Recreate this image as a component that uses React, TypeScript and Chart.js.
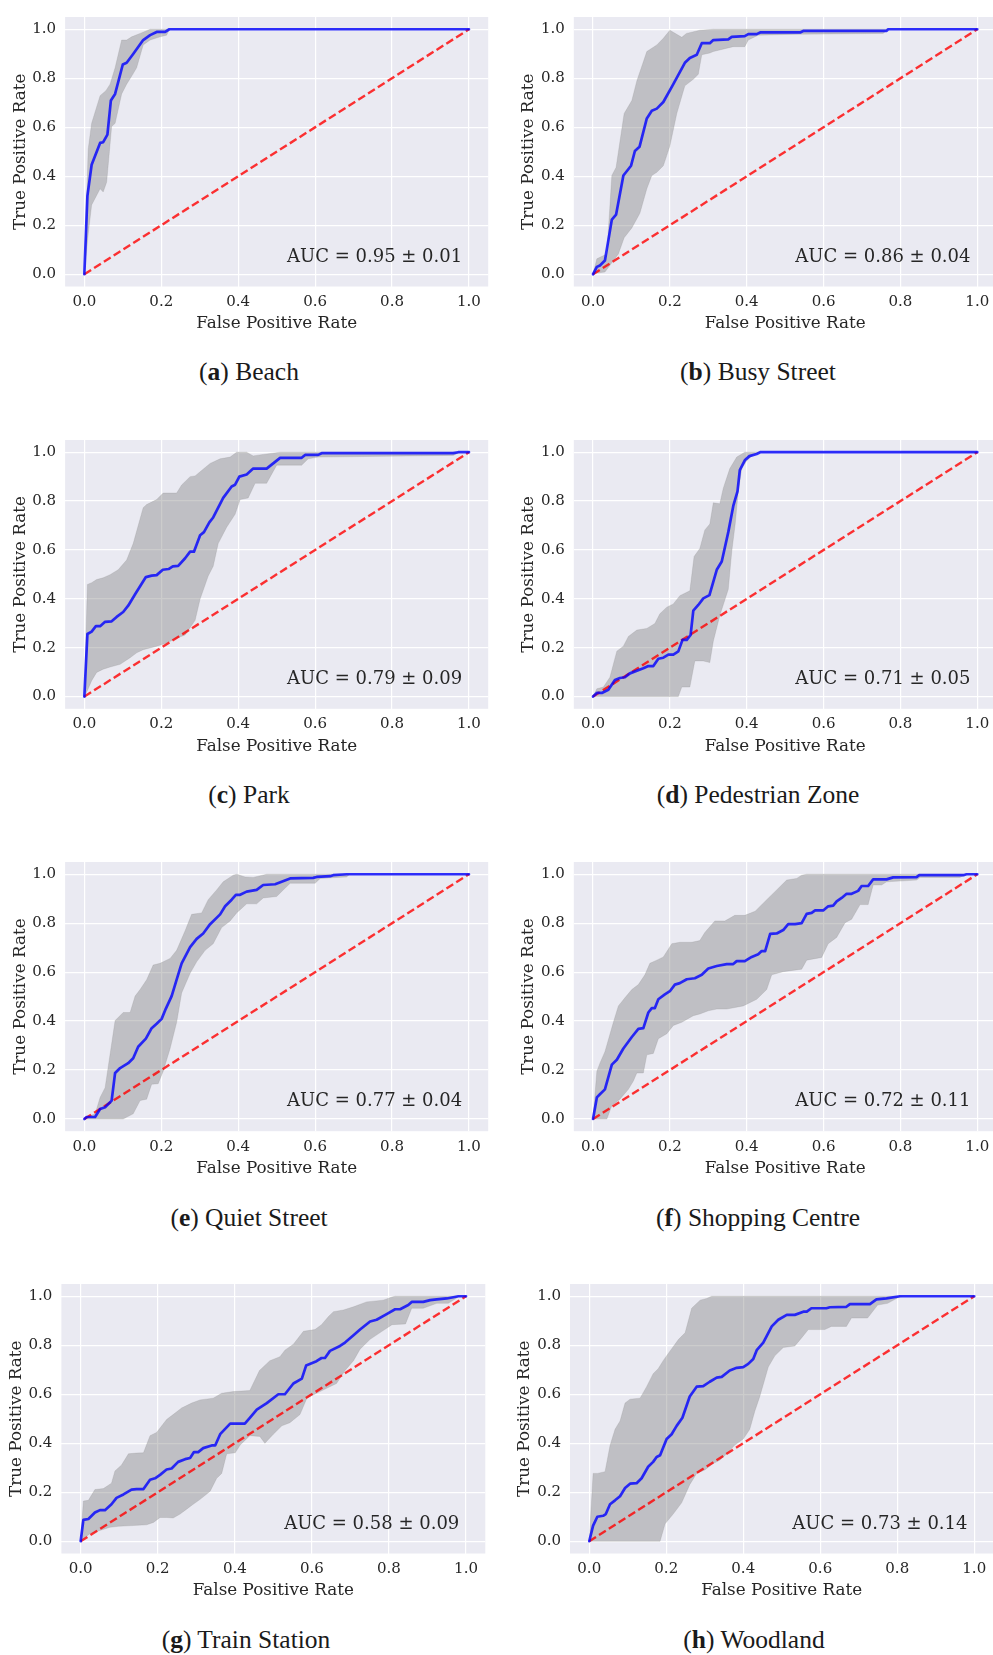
import React, { useEffect, useRef } from 'react';
import { Chart, registerables } from 'chart.js';

Chart.register(...registerables);

// ---------- shared ----------
const tickValues = [0, 0.2, 0.4, 0.6, 0.8, 1.0];
const diagFpr = [0, 1];
const diagTpr = [0, 1];
const panelLetters = ['a', 'b', 'c', 'd', 'e', 'f', 'g', 'h'];
const panelNames = ['Beach', 'Busy Street', 'Park', 'Pedestrian Zone', 'Quiet Street', 'Shopping Centre', 'Train Station', 'Woodland'];
const aucLabels = ['AUC = 0.95 ± 0.01', 'AUC = 0.86 ± 0.04', 'AUC = 0.79 ± 0.09', 'AUC = 0.71 ± 0.05', 'AUC = 0.77 ± 0.04', 'AUC = 0.72 ± 0.11', 'AUC = 0.58 ± 0.09', 'AUC = 0.73 ± 0.14'];

// ---------- (a) Beach ----------
const beachMeanFpr = [0, 0.008, 0.019, 0.041, 0.049, 0.06, 0.069, 0.08, 0.1, 0.11, 0.127, 0.153, 0.171, 0.188, 0.21, 0.221, 1.0];
const beachMeanTpr = [0, 0.32, 0.447, 0.536, 0.539, 0.57, 0.709, 0.736, 0.856, 0.863, 0.899, 0.956, 0.976, 0.989, 0.989, 1.0, 1.0];
const beachUpperFpr = [0, 0.01, 0.019, 0.041, 0.056, 0.067, 0.08, 0.097, 0.11, 0.123, 0.145, 0.171, 1.0];
const beachUpper = [0, 0.51, 0.616, 0.729, 0.749, 0.776, 0.843, 0.956, 0.956, 0.969, 0.983, 1.0, 1.0];
const beachLowerFpr = [0, 0.01, 0.019, 0.041, 0.049, 0.058, 0.071, 0.08, 0.097, 0.11, 0.126, 0.136, 0.153, 0.171, 0.197, 0.214, 0.221, 1.0];
const beachLower = [0, 0.163, 0.283, 0.349, 0.336, 0.376, 0.603, 0.616, 0.736, 0.776, 0.816, 0.843, 0.936, 0.956, 0.969, 0.976, 1.0, 1.0];

// ---------- (b) Busy Street ----------
const busyMeanFpr = [0, 0.01, 0.018, 0.031, 0.049, 0.06, 0.079, 0.099, 0.109, 0.121, 0.14, 0.153, 0.166, 0.183, 0.209, 0.239, 0.252, 0.27, 0.283, 0.304, 0.313, 0.352, 0.361, 0.395, 0.404, 0.426, 0.435, 0.539, 0.547, 0.764, 0.768, 1.0];
const busyMeanTpr = [0, 0.03, 0.036, 0.056, 0.223, 0.243, 0.403, 0.443, 0.503, 0.52, 0.636, 0.667, 0.676, 0.703, 0.776, 0.863, 0.883, 0.896, 0.943, 0.943, 0.956, 0.959, 0.969, 0.972, 0.98, 0.98, 0.987, 0.987, 0.993, 0.993, 1.0, 1.0];
const busyUpperFpr = [0, 0.01, 0.036, 0.049, 0.06, 0.081, 0.101, 0.114, 0.14, 0.166, 0.183, 0.2, 0.231, 0.243, 0.278, 0.313, 1.0];
const busyUpper = [0, 0.063, 0.083, 0.403, 0.436, 0.656, 0.709, 0.789, 0.909, 0.936, 0.963, 0.996, 0.967, 0.983, 0.996, 1.0, 1.0];
const busyLowerFpr = [0, 0.01, 0.031, 0.066, 0.081, 0.101, 0.122, 0.14, 0.153, 0.166, 0.183, 0.2, 0.218, 0.239, 0.261, 0.274, 0.283, 0.304, 0.313, 0.365, 0.395, 0.404, 0.43, 0.539, 0.755, 0.768, 1.0];
const busyLower = [0, 0.005, 0.009, 0.083, 0.149, 0.189, 0.249, 0.349, 0.403, 0.416, 0.443, 0.523, 0.656, 0.769, 0.796, 0.816, 0.896, 0.903, 0.909, 0.929, 0.929, 0.956, 0.976, 0.98, 0.983, 1.0, 1.0];

// ---------- (c) Park ----------
const parkMeanFpr = [0, 0.008, 0.019, 0.03, 0.041, 0.054, 0.071, 0.084, 0.101, 0.114, 0.132, 0.16, 0.175, 0.188, 0.204, 0.219, 0.23, 0.244, 0.262, 0.275, 0.285, 0.301, 0.311, 0.325, 0.335, 0.361, 0.383, 0.392, 0.403, 0.422, 0.439, 0.474, 0.509, 0.565, 0.574, 0.608, 0.617, 0.959, 0.972, 1.0];
const parkMeanTpr = [0, 0.256, 0.266, 0.288, 0.288, 0.306, 0.308, 0.326, 0.346, 0.372, 0.419, 0.489, 0.495, 0.497, 0.519, 0.522, 0.533, 0.535, 0.566, 0.593, 0.593, 0.66, 0.673, 0.713, 0.733, 0.813, 0.86, 0.867, 0.9, 0.909, 0.933, 0.933, 0.977, 0.977, 0.989, 0.989, 0.996, 0.996, 1.0, 1.0];
const parkUpperFpr = [0, 0.008, 0.019, 0.032, 0.049, 0.067, 0.088, 0.11, 0.127, 0.153, 0.162, 0.188, 0.205, 0.24, 0.253, 0.275, 0.288, 0.301, 0.327, 0.353, 0.379, 0.396, 0.422, 0.439, 0.465, 0.509, 1.0];
const parkUpper = [0, 0.459, 0.466, 0.479, 0.486, 0.499, 0.519, 0.559, 0.626, 0.773, 0.786, 0.806, 0.833, 0.833, 0.866, 0.9, 0.903, 0.92, 0.954, 0.973, 0.98, 1.0, 1.0, 0.985, 0.991, 1.0, 1.0];
const parkLowerFpr = [0, 0.008, 0.019, 0.032, 0.049, 0.067, 0.093, 0.119, 0.136, 0.153, 0.188, 0.214, 0.24, 0.262, 0.288, 0.301, 0.322, 0.335, 0.348, 0.37, 0.392, 0.405, 0.426, 0.444, 0.474, 0.5, 0.565, 0.582, 0.608, 0.959, 0.977, 1.0];
const parkLower = [0, 0.025, 0.065, 0.099, 0.112, 0.121, 0.132, 0.159, 0.179, 0.192, 0.206, 0.219, 0.239, 0.252, 0.312, 0.399, 0.493, 0.533, 0.626, 0.693, 0.746, 0.806, 0.813, 0.873, 0.873, 0.947, 0.947, 0.973, 0.98, 0.987, 1.0, 1.0];

// ---------- (d) Pedestrian Zone ----------
const pedMeanFpr = [0, 0.01, 0.023, 0.04, 0.057, 0.07, 0.083, 0.096, 0.131, 0.144, 0.157, 0.17, 0.183, 0.196, 0.209, 0.222, 0.233, 0.244, 0.254, 0.261, 0.274, 0.287, 0.303, 0.322, 0.335, 0.352, 0.365, 0.376, 0.382, 0.395, 0.407, 0.426, 0.435, 1.0];
const pedMeanTpr = [0, 0.015, 0.015, 0.028, 0.068, 0.076, 0.079, 0.095, 0.116, 0.125, 0.125, 0.155, 0.159, 0.172, 0.172, 0.185, 0.232, 0.232, 0.252, 0.352, 0.375, 0.402, 0.415, 0.519, 0.553, 0.673, 0.78, 0.84, 0.927, 0.967, 0.984, 0.993, 1.0, 1.0];
const pedUpperFpr = [0, 0.01, 0.027, 0.044, 0.062, 0.079, 0.092, 0.114, 0.14, 0.161, 0.174, 0.192, 0.209, 0.226, 0.252, 0.263, 0.278, 0.291, 0.304, 0.313, 0.33, 0.339, 0.356, 0.374, 0.395, 1.0];
const pedUpper = [0, 0.032, 0.039, 0.079, 0.186, 0.206, 0.246, 0.272, 0.279, 0.299, 0.339, 0.366, 0.379, 0.413, 0.433, 0.573, 0.606, 0.682, 0.706, 0.793, 0.789, 0.853, 0.933, 0.98, 1.0, 1.0];
const pedLowerFpr = [0, 0.222, 0.231, 0.252, 0.265, 0.287, 0.304, 0.313, 0.33, 0.352, 0.361, 0.37, 0.378, 0.387, 0.4, 0.417, 0.435, 1.0];
const pedLower = [0, 0, 0.039, 0.039, 0.146, 0.146, 0.139, 0.226, 0.332, 0.439, 0.593, 0.706, 0.84, 0.933, 0.965, 0.99, 1.0, 1.0];

// ---------- (e) Quiet Street ----------
const quietMeanFpr = [0, 0.006, 0.028, 0.041, 0.054, 0.067, 0.071, 0.08, 0.093, 0.114, 0.127, 0.14, 0.16, 0.175, 0.188, 0.201, 0.212, 0.227, 0.24, 0.253, 0.275, 0.292, 0.309, 0.327, 0.353, 0.366, 0.383, 0.394, 0.405, 0.422, 0.448, 0.465, 0.496, 0.535, 0.595, 0.604, 0.639, 0.647, 0.682, 1.0];
const quietMeanTpr = [0, 0.008, 0.008, 0.041, 0.048, 0.068, 0.075, 0.188, 0.208, 0.228, 0.248, 0.295, 0.328, 0.371, 0.389, 0.409, 0.451, 0.502, 0.569, 0.636, 0.702, 0.736, 0.758, 0.796, 0.836, 0.869, 0.896, 0.916, 0.916, 0.929, 0.936, 0.956, 0.959, 0.983, 0.985, 0.989, 0.992, 0.996, 1.0, 1.0];
const quietUpperFpr = [0, 0.01, 0.028, 0.041, 0.054, 0.08, 0.101, 0.119, 0.132, 0.145, 0.162, 0.179, 0.197, 0.223, 0.24, 0.262, 0.279, 0.305, 0.322, 0.344, 0.361, 0.387, 0.396, 0.418, 0.439, 0.474, 1.0];
const quietUpper = [0, 0.012, 0.02, 0.088, 0.128, 0.402, 0.435, 0.435, 0.502, 0.529, 0.569, 0.629, 0.636, 0.656, 0.689, 0.769, 0.836, 0.842, 0.896, 0.936, 0.969, 0.996, 1.0, 0.989, 0.987, 1.0, 1.0];
const quietLowerFpr = [0, 0.101, 0.127, 0.145, 0.162, 0.175, 0.192, 0.205, 0.223, 0.24, 0.253, 0.275, 0.292, 0.314, 0.335, 0.357, 0.379, 0.396, 0.422, 0.448, 0.465, 0.5, 0.535, 0.6, 0.613, 0.682, 0.69, 1.0];
const quietLower = [0, 0, 0.021, 0.075, 0.081, 0.142, 0.144, 0.195, 0.288, 0.395, 0.515, 0.595, 0.642, 0.689, 0.716, 0.782, 0.809, 0.842, 0.879, 0.879, 0.903, 0.909, 0.963, 0.963, 0.983, 0.989, 1.0, 1.0];

// ---------- (f) Shopping Centre ----------
const shopMeanFpr = [0, 0.01, 0.018, 0.031, 0.049, 0.062, 0.079, 0.101, 0.118, 0.131, 0.144, 0.153, 0.161, 0.17, 0.187, 0.2, 0.213, 0.226, 0.244, 0.265, 0.283, 0.3, 0.322, 0.348, 0.365, 0.374, 0.395, 0.413, 0.43, 0.439, 0.448, 0.461, 0.478, 0.495, 0.508, 0.526, 0.543, 0.556, 0.569, 0.578, 0.599, 0.612, 0.625, 0.634, 0.647, 0.66, 0.673, 0.69, 0.699, 0.716, 0.729, 0.764, 0.781, 0.842, 0.849, 0.964, 0.972, 1.0];
const shopMeanTpr = [0, 0.088, 0.101, 0.121, 0.222, 0.242, 0.288, 0.335, 0.368, 0.371, 0.435, 0.453, 0.453, 0.489, 0.509, 0.522, 0.549, 0.555, 0.571, 0.575, 0.589, 0.615, 0.625, 0.633, 0.633, 0.645, 0.645, 0.662, 0.673, 0.686, 0.686, 0.756, 0.758, 0.772, 0.796, 0.796, 0.8, 0.838, 0.842, 0.852, 0.852, 0.869, 0.872, 0.889, 0.903, 0.92, 0.92, 0.932, 0.952, 0.952, 0.979, 0.979, 0.987, 0.988, 0.996, 0.996, 1.0, 1.0];
const shopUpperFpr = [0, 0.01, 0.018, 0.031, 0.053, 0.066, 0.083, 0.101, 0.118, 0.135, 0.148, 0.166, 0.183, 0.205, 0.226, 0.257, 0.278, 0.291, 0.317, 0.343, 0.369, 0.395, 0.422, 0.452, 0.478, 0.504, 0.53, 0.543, 0.556, 1.0];
const shopUpper = [0, 0.195, 0.228, 0.275, 0.395, 0.462, 0.495, 0.529, 0.549, 0.589, 0.636, 0.649, 0.662, 0.716, 0.722, 0.722, 0.729, 0.762, 0.809, 0.809, 0.832, 0.832, 0.849, 0.896, 0.936, 0.976, 0.983, 0.996, 1.0, 1.0];
const shopLowerFpr = [0, 0.036, 0.049, 0.07, 0.092, 0.105, 0.114, 0.131, 0.14, 0.157, 0.17, 0.192, 0.209, 0.231, 0.261, 0.278, 0.3, 0.322, 0.348, 0.391, 0.426, 0.452, 0.465, 0.495, 0.543, 0.556, 0.595, 0.612, 0.634, 0.656, 0.673, 0.695, 0.716, 0.729, 0.751, 0.764, 0.842, 0.851, 0.955, 0.972, 1.0];
const shopLower = [0, 0, 0.055, 0.081, 0.121, 0.155, 0.188, 0.188, 0.262, 0.268, 0.328, 0.348, 0.382, 0.395, 0.422, 0.429, 0.442, 0.449, 0.449, 0.462, 0.489, 0.529, 0.589, 0.602, 0.612, 0.649, 0.66, 0.716, 0.742, 0.802, 0.816, 0.876, 0.876, 0.956, 0.956, 0.969, 0.976, 0.987, 0.987, 1.0, 1.0];

// ---------- (g) Train Station ----------
const trainMeanFpr = [0, 0.007, 0.02, 0.037, 0.05, 0.063, 0.08, 0.093, 0.111, 0.132, 0.145, 0.163, 0.18, 0.193, 0.206, 0.223, 0.236, 0.253, 0.271, 0.284, 0.294, 0.305, 0.318, 0.34, 0.349, 0.362, 0.388, 0.426, 0.439, 0.457, 0.483, 0.513, 0.53, 0.552, 0.574, 0.585, 0.612, 0.625, 0.634, 0.647, 0.673, 0.686, 0.708, 0.725, 0.751, 0.768, 0.794, 0.816, 0.829, 0.85, 0.859, 0.889, 0.907, 0.924, 0.95, 0.967, 0.98, 1.0];
const trainMeanTpr = [0, 0.087, 0.091, 0.117, 0.127, 0.127, 0.151, 0.177, 0.191, 0.211, 0.213, 0.213, 0.251, 0.257, 0.271, 0.293, 0.297, 0.324, 0.335, 0.34, 0.364, 0.364, 0.38, 0.391, 0.391, 0.437, 0.48, 0.48, 0.504, 0.537, 0.564, 0.6, 0.6, 0.644, 0.664, 0.717, 0.735, 0.748, 0.748, 0.777, 0.797, 0.811, 0.841, 0.864, 0.897, 0.904, 0.927, 0.947, 0.947, 0.964, 0.977, 0.977, 0.984, 0.987, 0.991, 0.996, 1.0, 1.0];
const trainUpperFpr = [0, 0.007, 0.02, 0.037, 0.059, 0.08, 0.089, 0.106, 0.124, 0.145, 0.163, 0.18, 0.197, 0.223, 0.24, 0.262, 0.288, 0.31, 0.344, 0.366, 0.396, 0.439, 0.464, 0.491, 0.517, 0.53, 0.552, 0.578, 0.608, 0.625, 0.643, 0.656, 0.682, 0.708, 0.742, 0.785, 0.808, 0.816, 1.0];
const trainUpper = [0, 0.164, 0.167, 0.211, 0.215, 0.237, 0.287, 0.311, 0.357, 0.36, 0.361, 0.431, 0.444, 0.497, 0.517, 0.544, 0.564, 0.577, 0.584, 0.604, 0.611, 0.615, 0.697, 0.737, 0.753, 0.78, 0.804, 0.857, 0.864, 0.884, 0.917, 0.937, 0.944, 0.957, 0.977, 0.984, 0.997, 1.0, 1.0];
const trainLowerFpr = [0, 0.007, 0.024, 0.05, 0.076, 0.098, 0.171, 0.189, 0.206, 0.223, 0.24, 0.258, 0.275, 0.292, 0.31, 0.336, 0.353, 0.366, 0.379, 0.401, 0.414, 0.439, 0.465, 0.478, 0.5, 0.522, 0.543, 0.569, 0.587, 0.612, 0.638, 0.664, 0.686, 0.708, 0.725, 0.751, 0.785, 0.808, 0.843, 0.859, 0.889, 0.924, 0.954, 0.98, 1.0];
const trainLower = [0, 0.011, 0.031, 0.044, 0.057, 0.061, 0.067, 0.077, 0.097, 0.097, 0.095, 0.111, 0.131, 0.151, 0.171, 0.204, 0.257, 0.277, 0.357, 0.361, 0.393, 0.431, 0.428, 0.4, 0.437, 0.471, 0.484, 0.517, 0.584, 0.604, 0.624, 0.644, 0.697, 0.737, 0.784, 0.824, 0.86, 0.884, 0.887, 0.951, 0.951, 0.971, 0.971, 0.997, 1.0];

// ---------- (h) Woodland ----------
const woodMeanFpr = [0, 0.01, 0.021, 0.036, 0.043, 0.054, 0.067, 0.08, 0.093, 0.106, 0.123, 0.136, 0.153, 0.166, 0.175, 0.184, 0.201, 0.214, 0.227, 0.242, 0.261, 0.279, 0.296, 0.313, 0.331, 0.344, 0.365, 0.383, 0.4, 0.413, 0.426, 0.435, 0.452, 0.474, 0.491, 0.513, 0.534, 0.556, 0.565, 0.577, 0.616, 0.625, 0.668, 0.677, 0.729, 0.746, 0.772, 0.807, 1.0];
const woodMeanTpr = [0, 0.064, 0.1, 0.104, 0.111, 0.151, 0.167, 0.184, 0.217, 0.235, 0.237, 0.257, 0.304, 0.324, 0.344, 0.351, 0.417, 0.437, 0.471, 0.504, 0.591, 0.631, 0.633, 0.651, 0.668, 0.671, 0.697, 0.708, 0.711, 0.724, 0.744, 0.78, 0.811, 0.877, 0.904, 0.924, 0.924, 0.937, 0.937, 0.951, 0.951, 0.955, 0.957, 0.968, 0.968, 0.987, 0.991, 1.0, 1.0];
const woodUpperFpr = [0, 0.01, 0.021, 0.041, 0.054, 0.067, 0.08, 0.093, 0.106, 0.132, 0.149, 0.166, 0.179, 0.192, 0.21, 0.232, 0.249, 0.266, 0.288, 0.305, 0.318, 1.0];
const woodUpper = [0, 0.277, 0.277, 0.284, 0.391, 0.457, 0.491, 0.564, 0.58, 0.584, 0.631, 0.684, 0.704, 0.737, 0.777, 0.824, 0.851, 0.951, 0.984, 0.991, 1.0, 1.0];
const woodLowerFpr = [0, 0.184, 0.197, 0.218, 0.24, 0.261, 0.279, 0.3, 0.322, 0.339, 0.357, 0.378, 0.4, 0.417, 0.43, 0.443, 0.465, 0.482, 0.504, 0.534, 0.552, 0.569, 0.612, 0.629, 0.668, 0.681, 0.723, 0.749, 0.775, 0.803, 0.816, 1.0];
const woodLower = [0, 0, 0.071, 0.111, 0.157, 0.231, 0.277, 0.291, 0.317, 0.331, 0.357, 0.393, 0.417, 0.457, 0.531, 0.591, 0.711, 0.757, 0.791, 0.797, 0.831, 0.864, 0.864, 0.877, 0.877, 0.911, 0.911, 0.964, 0.971, 0.995, 1.0, 1.0];

const seriesTable = [
  [beachMeanFpr, beachMeanTpr, beachUpperFpr, beachUpper, beachLowerFpr, beachLower],
  [busyMeanFpr, busyMeanTpr, busyUpperFpr, busyUpper, busyLowerFpr, busyLower],
  [parkMeanFpr, parkMeanTpr, parkUpperFpr, parkUpper, parkLowerFpr, parkLower],
  [pedMeanFpr, pedMeanTpr, pedUpperFpr, pedUpper, pedLowerFpr, pedLower],
  [quietMeanFpr, quietMeanTpr, quietUpperFpr, quietUpper, quietLowerFpr, quietLower],
  [shopMeanFpr, shopMeanTpr, shopUpperFpr, shopUpper, shopLowerFpr, shopLower],
  [trainMeanFpr, trainMeanTpr, trainUpperFpr, trainUpper, trainLowerFpr, trainLower],
  [woodMeanFpr, woodMeanTpr, woodUpperFpr, woodUpper, woodLowerFpr, woodLower],
];

// ---------- layout (page pixels of each plot area, captions) ----------
const plotBoxes = [
  { L: 65.1, R: 488.2, T: 11.5, B: 286.5, capX: 249, capY: 372 },
  { L: 573.8, R: 996.5, T: 11.5, B: 286.5, capX: 758, capY: 372 },
  { L: 65.1, R: 488.2, T: 434.2, B: 708.8, capX: 249, capY: 795 },
  { L: 573.8, R: 996.5, T: 434.2, B: 708.8, capX: 758, capY: 795 },
  { L: 65.1, R: 488.2, T: 856.5, B: 1131.2, capX: 249, capY: 1217.5 },
  { L: 573.8, R: 996.5, T: 856.5, B: 1131.2, capX: 758, capY: 1217.5 },
  { L: 61.4, R: 485.3, T: 1278.5, B: 1553.5, capX: 246, capY: 1640 },
  { L: 570, R: 993.5, T: 1278.5, B: 1553.5, capX: 754, capY: 1640 },
];

const Y_AXIS_W = 66;
const X_AXIS_H = 48;
const TEXT = '#262626';
const SERIF = '"DejaVu Serif", serif';

const toPoints = (xs: number[], ys: number[]) => {
  const n = Math.min(xs.length, ys.length);
  const out: { x: number; y: number }[] = [];
  for (let i = 0; i < n; i++) out.push({ x: xs[i], y: ys[i] });
  return out;
};

function RocPanel({ idx }: { idx: number }) {
  const ref = useRef<HTMLCanvasElement>(null);
  const box = plotBoxes[idx];
  const cLeft = Math.floor(box.L) - Y_AXIS_W;
  const cTop = Math.floor(box.T) - 12;
  const cWidth = Math.ceil(box.R) + 12 - cLeft;
  const cHeight = Math.ceil(box.B) + X_AXIS_H + 6 - cTop;
  const padLeft = box.L - Math.floor(box.L);
  const padTop = box.T - cTop;
  const padRight = cWidth - (box.R - cLeft);
  const padBottom = cHeight - (box.B - cTop) - X_AXIS_H;

  useEffect(() => {
    const [mx, my, ux, uy, lx, ly] = seriesTable[idx];
    const auc = aucLabels[idx];
    const chart = new Chart(ref.current as HTMLCanvasElement, {
      type: 'line',
      data: {
        datasets: [
          {
            label: 'mean',
            data: toPoints(mx, my),
            borderColor: 'rgba(0,0,255,0.8)',
            borderWidth: 2.7,
            pointRadius: 0,
            fill: false,
            tension: 0,
            borderJoinStyle: 'round',
            borderCapStyle: 'round',
            order: 0,
          },
          {
            label: 'chance',
            data: toPoints(diagFpr, diagTpr),
            borderColor: 'rgba(255,0,0,0.8)',
            borderDash: [8, 3.6],
            borderWidth: 2.4,
            pointRadius: 0,
            fill: false,
            order: 1,
          },
          {
            label: 'upper',
            data: toPoints(ux, uy),
            borderColor: 'rgba(128,128,128,0.25)',
            borderWidth: 0.8,
            pointRadius: 0,
            fill: false,
            order: 2,
          },
          {
            label: 'lower',
            data: toPoints(lx, ly),
            borderColor: 'rgba(128,128,128,0.25)',
            borderWidth: 0.8,
            pointRadius: 0,
            fill: '-1',
            backgroundColor: 'rgba(128,128,128,0.4)',
            order: 3,
          },
        ],
      },
      options: {
        animation: false,
        responsive: false,
        maintainAspectRatio: false,
        devicePixelRatio: 1,
        events: [],
        layout: { padding: { left: padLeft, top: padTop, right: padRight, bottom: padBottom } },
        plugins: { legend: { display: false }, tooltip: { enabled: false } },
        scales: {
          x: {
            type: 'linear',
            min: -0.05,
            max: 1.05,
            afterBuildTicks: (axis: any) => {
              axis.ticks = tickValues.map((v) => ({ value: v }));
            },
            afterFit: (s: any) => {
              s.height = X_AXIS_H;
            },
            grid: { color: '#ffffff', lineWidth: 1.2, drawTicks: false },
            border: { display: false },
            ticks: {
              padding: 6.5,
              color: TEXT,
              autoSkip: false,
              maxRotation: 0,
              font: { family: SERIF, size: 15 },
              callback: (v: any) => Number(v).toFixed(1),
            },
            title: {
              display: true,
              text: 'False Positive Rate',
              color: TEXT,
              font: { family: SERIF, size: 16.8 },
              padding: { top: 0, bottom: 0.4 },
            },
          },
          y: {
            type: 'linear',
            min: -0.05,
            max: 1.05,
            afterBuildTicks: (axis: any) => {
              axis.ticks = tickValues.map((v) => ({ value: v }));
            },
            afterFit: (s: any) => {
              s.width = Y_AXIS_W;
            },
            grid: { color: '#ffffff', lineWidth: 1.2, drawTicks: false },
            border: { display: false },
            ticks: {
              padding: 9,
              color: TEXT,
              autoSkip: false,
              font: { family: SERIF, size: 15 },
              callback: (v: any) => Number(v).toFixed(1),
            },
            title: {
              display: true,
              text: 'True Positive Rate',
              color: TEXT,
              font: { family: SERIF, size: 16.8 },
              padding: { top: 11, bottom: 0 },
            },
          },
        },
      },
      plugins: [
        {
          id: 'panelDecor',
          beforeDraw(c: any) {
            const { ctx, chartArea } = c;
            ctx.save();
            ctx.fillStyle = '#EAEAF2';
            ctx.fillRect(chartArea.left, chartArea.top, chartArea.right - chartArea.left, chartArea.bottom - chartArea.top);
            ctx.restore();
          },
          afterDatasetsDraw(c: any) {
            const { ctx, chartArea } = c;
            ctx.save();
            ctx.font = `18px ${SERIF}`;
            ctx.fillStyle = TEXT;
            ctx.textAlign = 'right';
            ctx.textBaseline = 'alphabetic';
            ctx.fillText(auc, chartArea.right - 26, chartArea.bottom - 25);
            ctx.restore();
          },
        },
      ],
    } as any);
    return () => chart.destroy();
  }, [idx]);

  return (
    <>
      <canvas
        ref={ref}
        width={cWidth}
        height={cHeight}
        style={{ position: 'absolute', left: cLeft, top: cTop, width: cWidth, height: cHeight }}
      />
      <div
        style={{
          position: 'absolute',
          left: box.capX - 200,
          top: box.capY - 15,
          width: 400,
          height: 30,
          lineHeight: '30px',
          textAlign: 'center',
          fontFamily: '"Liberation Serif", serif',
          fontSize: 25.5,
          color: '#1a1a1a',
          whiteSpace: 'nowrap',
        }}
      >
        (<b>{panelLetters[idx]}</b>) {panelNames[idx]}
      </div>
    </>
  );
}

export default function App() {
  return (
    <div
      style={{
        position: 'absolute',
        left: 0,
        top: 0,
        width: 993,
        height: 1655,
        overflow: 'hidden',
        background: '#ffffff',
      }}
    >
      {plotBoxes.map((_, i) => (
        <RocPanel key={i} idx={i} />
      ))}
    </div>
  );
}
